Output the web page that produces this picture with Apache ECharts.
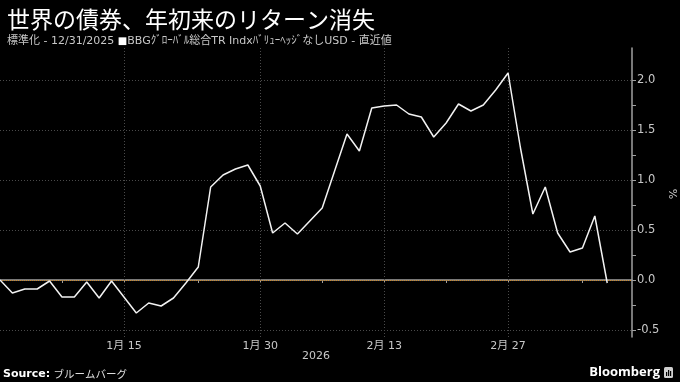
<!DOCTYPE html>
<html>
<head>
<meta charset="utf-8">
<script src="https://cdn.jsdelivr.net/npm/echarts@6/dist/echarts.min.js"></script>
<style>
html,body{margin:0;padding:0;background:#000;}
#c{width:680px;height:382px;}
</style>
</head>
<body>
<div id="c"></div>
<script>
const dates = [
  '2025-12-31','2026-01-02','2026-01-05','2026-01-06','2026-01-07','2026-01-08','2026-01-09',
  '2026-01-12','2026-01-13','2026-01-14','2026-01-15','2026-01-16',
  '2026-01-19','2026-01-20','2026-01-21','2026-01-22','2026-01-23',
  '2026-01-26','2026-01-27','2026-01-28','2026-01-29','2026-01-30',
  '2026-02-02','2026-02-03','2026-02-04','2026-02-05','2026-02-06',
  '2026-02-09','2026-02-10','2026-02-11','2026-02-12','2026-02-13',
  '2026-02-16','2026-02-17','2026-02-18','2026-02-19','2026-02-20',
  '2026-02-23','2026-02-24','2026-02-25','2026-02-26','2026-02-27',
  '2026-03-02','2026-03-03','2026-03-04','2026-03-05','2026-03-06',
  '2026-03-09','2026-03-10','2026-03-11','2026-03-12','2026-03-13'
];
const values = [
  0.00,-0.13,-0.09,-0.09,-0.01,-0.17,-0.17,
  -0.02,-0.18,-0.01,-0.17,-0.33,
  -0.23,-0.26,-0.18,-0.03,0.13,
  0.93,1.05,1.11,1.15,0.94,
  0.47,0.57,0.46,0.59,0.72,
  1.09,1.46,1.29,1.72,1.74,
  1.75,1.66,1.63,1.43,1.57,
  1.76,1.69,1.75,1.90,2.07,
  1.32,0.66,0.93,0.47,0.28,
  0.32,0.64,-0.03
];
const labelDates = ['2026-01-15','2026-01-30','2026-02-13','2026-02-27'];
const labelTexts = ['1月 15','1月 30','2月 13','2月 27'];
const minorTickDates = ['2026-01-08','2026-01-23','2026-02-06','2026-02-20','2026-03-09'];
const yTickLabels = [-0.5, 0, 0.5, 1.0, 1.5, 2.0];
const yMinorTicks = [-0.25, 0.25, 0.75, 1.25, 1.75];
const yearLabel = '2026';
const unitLabel = '%';

const titleText = '世界の債券、年初来のリターン消失';
const subLeft = '標準化 - 12/31/2025 ';
const subSeries = 'BBGｸﾞﾛｰﾊﾞﾙ総合TR IndxﾊﾞﾘｭｰﾍｯｼﾞなしUSD - 直近値';
const sourceText = 'ブルームバーグ';

const FONT = '"DejaVu Sans", "Noto Sans CJK JP", sans-serif';
const chart = echarts.init(document.getElementById('c'), null, {renderer:'canvas'});

const tickDates = labelDates.concat(minorTickDates);
const gridColor = '#4a4a4a';

chart.setOption({
  backgroundColor: '#000',
  animation: false,
  title: {
    left: 2, top: 3,
    text: titleText,
    textStyle: {color:'#fff', fontSize: 23, fontWeight: 'normal', fontFamily: '"Noto Sans CJK JP", sans-serif'},
    subtext: '{a|' + subLeft + '}{sq|■}{a|' + subSeries + '}',
    itemGap: 5,
    subtextStyle: {
      rich: {
        a: {color:'#c8c8c8', fontSize: 11, fontFamily: FONT},
        sq: {color:'#fff', fontSize: 10, fontFamily: FONT}
      }
    }
  },
  grid: {left: 0, right: 48, top: 48, bottom: 45, containLabel: false, outerBoundsMode: 'none'},
  xAxis: {
    type: 'category',
    data: dates,
    boundaryGap: false,
    axisLine: {show: true, lineStyle: {color: '#a0a0a0', width: 1.5}},
    axisTick: {
      show: true, length: 3, inside: false,
      interval: (i, v) => tickDates.indexOf(v) >= 0,
      lineStyle: {color: '#a0a0a0'}
    },
    axisLabel: {
      interval: (i, v) => labelDates.indexOf(v) >= 0,
      formatter: v => { const k = labelDates.indexOf(v); return k >= 0 ? labelTexts[k] : ''; },
      color: '#c8c8c8', fontSize: 11, fontFamily: FONT, margin: 4
    },
    splitLine: {show: false}
  },
  yAxis: {
    type: 'value',
    position: 'right',
    min: -0.57, max: 2.32,
    axisLine: {show: true, lineStyle: {color: '#a0a0a0', width: 1.5}},
    axisTick: {show: true, length: 4, customValues: yTickLabels.concat(yMinorTicks), lineStyle: {color: '#a0a0a0'}},
    axisLabel: {
      customValues: yTickLabels,
      formatter: v => v.toFixed(1),
      color: '#c8c8c8', fontSize: 11.5, fontFamily: FONT, margin: 5
    },
    splitLine: {show: false}
  },
  series: [
    {
      type: 'line',
      data: values,
      silent: true,
      showSymbol: false,
      lineStyle: {opacity: 0},
      z: 1,
      markLine: {
        silent: true,
        symbol: 'none',
        label: {show: false},
        animation: false,
        lineStyle: {color: gridColor, type: [1, 2], width: 1},
        data: labelDates.map(d => ({xAxis: d}))
          .concat(yTickLabels.filter(v => v !== 0).map(v => ({yAxis: v})))
          .concat([{yAxis: 0, lineStyle: {color: '#cf8a2c', type: [1, 1], width: 1}}])
      }
    },
    {
      type: 'line',
      data: values,
      showSymbol: false,
      z: 5,
      lineStyle: {color: '#f2f2f2', width: 1.5},
      itemStyle: {color: '#f2f2f2'}
    }
  ],
  graphic: [
    {type: 'text', x: 672, y: 194, rotation: -Math.PI / 2,
     style: {text: unitLabel, fill: '#c8c8c8', fontSize: 11, fontFamily: FONT, align: 'center', verticalAlign: 'middle'}},
    {type: 'text', left: 316 - 14, top: 351,
     style: {text: yearLabel, fill: '#c8c8c8', fontSize: 11, fontFamily: FONT}},
    {type: 'text', left: 3, top: 368,
     style: {text: '{b|Source:} {j|' + sourceText + '}', fill: '#fff',
       rich: {b: {fontWeight: 'bold', fontSize: 11, fill: '#fff', fontFamily: FONT},
              j: {fontSize: 10.5, fill: '#ddd', fontFamily: '"Noto Sans CJK JP", sans-serif'}}}},
    {type: 'text', right: 20, top: 366,
     style: {text: 'Bloomberg', fill: '#fff', fontSize: 13, fontWeight: 'bold', fontFamily: '"Open Sans", sans-serif'}},
    {type: 'rect', shape: {x: 664, y: 367, width: 9, height: 11, r: 1.5}, style: {fill: '#cfcfcf'}},
    {type: 'rect', shape: {x: 666, y: 372, width: 1.2, height: 4}, style: {fill: '#000'}},
    {type: 'rect', shape: {x: 668, y: 370, width: 1.2, height: 6}, style: {fill: '#000'}},
    {type: 'rect', shape: {x: 670, y: 371, width: 1.2, height: 5}, style: {fill: '#000'}}
  ]
});
</script>
</body>
</html>
